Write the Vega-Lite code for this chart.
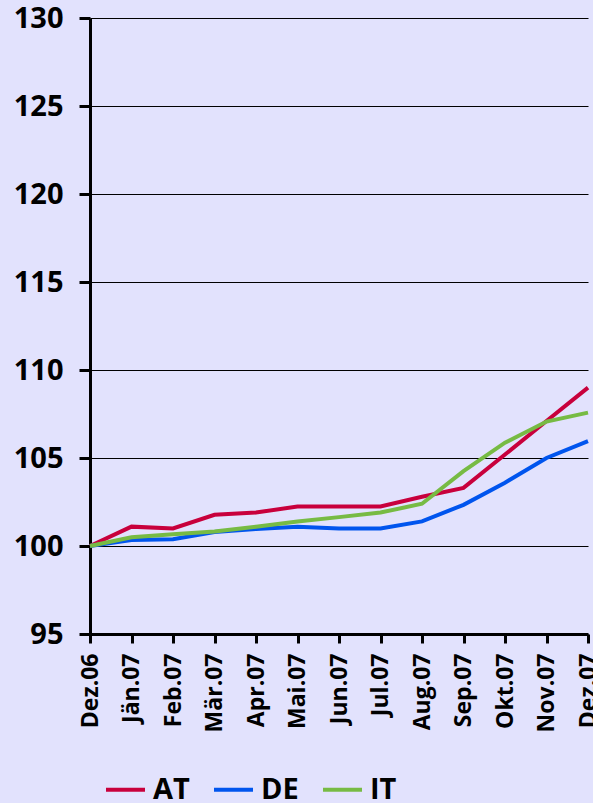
{
  "$schema": "https://vega.github.io/schema/vega-lite/v6.json",
  "width": 498,
  "height": 616,
  "autosize": {"type": "none"},
  "padding": {"left": 90, "top": 18, "right": 5, "bottom": 169},
  "background": "#E2E2FD",
  "config": {
    "view": {"stroke": null},
    "font": "Open Sans"
  },
  "data": {
    "values": [
      {"month": "Dez.06", "land": "AT", "value": 100.0},
      {"month": "Jän.07", "land": "AT", "value": 101.1},
      {"month": "Feb.07", "land": "AT", "value": 101.0},
      {"month": "Mär.07", "land": "AT", "value": 101.77},
      {"month": "Apr.07", "land": "AT", "value": 101.9},
      {"month": "Mai.07", "land": "AT", "value": 102.25},
      {"month": "Jun.07", "land": "AT", "value": 102.25},
      {"month": "Jul.07", "land": "AT", "value": 102.25},
      {"month": "Aug.07", "land": "AT", "value": 102.8},
      {"month": "Sep.07", "land": "AT", "value": 103.3},
      {"month": "Okt.07", "land": "AT", "value": 105.2},
      {"month": "Nov.07", "land": "AT", "value": 107.1},
      {"month": "Dez.07", "land": "AT", "value": 109.0},
      {"month": "Dez.06", "land": "DE", "value": 100.0},
      {"month": "Jän.07", "land": "DE", "value": 100.34},
      {"month": "Feb.07", "land": "DE", "value": 100.38},
      {"month": "Mär.07", "land": "DE", "value": 100.8},
      {"month": "Apr.07", "land": "DE", "value": 100.97},
      {"month": "Mai.07", "land": "DE", "value": 101.1},
      {"month": "Jun.07", "land": "DE", "value": 101.0},
      {"month": "Jul.07", "land": "DE", "value": 101.0},
      {"month": "Aug.07", "land": "DE", "value": 101.4},
      {"month": "Sep.07", "land": "DE", "value": 102.34},
      {"month": "Okt.07", "land": "DE", "value": 103.6},
      {"month": "Nov.07", "land": "DE", "value": 105.0},
      {"month": "Dez.07", "land": "DE", "value": 105.96},
      {"month": "Dez.06", "land": "IT", "value": 100.0},
      {"month": "Jän.07", "land": "IT", "value": 100.5},
      {"month": "Feb.07", "land": "IT", "value": 100.67},
      {"month": "Mär.07", "land": "IT", "value": 100.82},
      {"month": "Apr.07", "land": "IT", "value": 101.1},
      {"month": "Mai.07", "land": "IT", "value": 101.39},
      {"month": "Jun.07", "land": "IT", "value": 101.64},
      {"month": "Jul.07", "land": "IT", "value": 101.9},
      {"month": "Aug.07", "land": "IT", "value": 102.4},
      {"month": "Sep.07", "land": "IT", "value": 104.25},
      {"month": "Okt.07", "land": "IT", "value": 105.87},
      {"month": "Nov.07", "land": "IT", "value": 107.07},
      {"month": "Dez.07", "land": "IT", "value": 107.58}
    ]
  },
  "mark": {"type": "line", "strokeWidth": 4, "clip": false},
  "encoding": {
    "x": {
      "field": "month",
      "type": "ordinal",
      "sort": null,
      "scale": {"type": "point", "padding": 0},
      "axis": {
        "title": null,
        "labelAngle": -90,
        "labelAlign": "right",
        "labelBaseline": "middle",
        "labelFont": "Open Sans",
        "labelFontSize": 23,
        "labelFontWeight": "bold",
        "labelColor": "#000000",
        "labelPadding": 10,
        "tickSize": 9,
        "tickWidth": 3,
        "tickColor": "#000000",
        "domainColor": "#000000",
        "domainWidth": 3,
        "grid": false
      }
    },
    "y": {
      "field": "value",
      "type": "quantitative",
      "scale": {"domain": [95, 130], "nice": false, "zero": false},
      "axis": {
        "title": null,
        "values": [95, 100, 105, 110, 115, 120, 125, 130],
        "labelFont": "Open Sans",
        "labelFontSize": 29,
        "labelFontWeight": "bold",
        "labelColor": "#000000",
        "labelPadding": 16,
        "tickSize": 11,
        "tickWidth": 3,
        "tickColor": "#000000",
        "domainColor": "#000000",
        "domainWidth": 3,
        "grid": true,
        "gridColor": "#000000",
        "gridWidth": 1,
        "gridOpacity": 1
      }
    },
    "color": {
      "field": "land",
      "type": "nominal",
      "scale": {"domain": ["AT", "DE", "IT"], "range": ["#C8003C", "#0055EE", "#77BB44"]},
      "legend": {
        "title": null,
        "orient": "none",
        "direction": "horizontal",
        "legendX": 14,
        "legendY": 750,
        "symbolType": "stroke",
        "symbolSize": 1521,
        "symbolStrokeWidth": 4,
        "labelFont": "Open Sans",
        "labelFontSize": 29,
        "labelFontWeight": "bold",
        "labelColor": "#000000",
        "labelOffset": 6,
        "columnPadding": 16
      }
    }
  }
}
